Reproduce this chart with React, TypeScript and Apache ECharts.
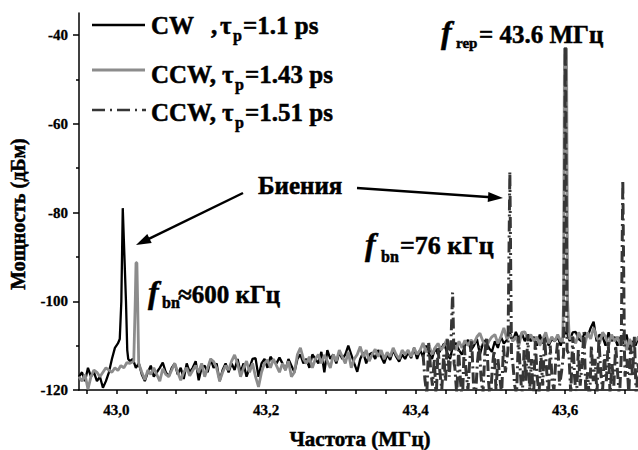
import React, { useEffect, useRef } from 'react';
import * as echarts from 'echarts';

const SERIF = "'Liberation Serif', 'Times New Roman', Times, serif";

// Axis ranges
const FREQ_MIN = 42.95;
const FREQ_MAX = 43.7;
const POWER_MIN = -120;
const POWER_MAX = -35;

// Tick positions and labels
const X_TICK_VALUES = [42.96, 43.0, 43.04, 43.08, 43.12, 43.16, 43.2, 43.24, 43.28, 43.32, 43.36, 43.4, 43.44, 43.48, 43.52, 43.56, 43.6, 43.64, 43.68];
const X_LABEL_VALUES = [43.0, 43.2, 43.4, 43.6];
const Y_LABEL_VALUES = [-120, -100, -80, -60, -40];
const Y_MINOR_VALUES = [-110, -90, -70, -50];

// Sweep grids (MHz)
const CW_START = 42.95;
const CW_STEP = 0.004;
const CCW1_START = 42.95;
const CCW1_STEP = 0.004;
const CCW2_START = 43.41;
const CCW2_STEP = 0.0025;

// CW, tau_p = 1.1 ps: noise floor (dBm), null where the beat line is given separately
const cwLevels: (number | null)[] = [
  -117, -116, -118, -115, -117, -116, -118, -117, -119.5, -118,
  -116, -113, -110.5, -109.5, null, null, null, -113.5, -113, -115,
  -114, -116.5, -118, -116, -114.5, -117, -116, -115, -113.8, -116,
  -117, -115, -114, -116.5, -115, -117.5, -114, -116, -115, -113.5,
  -117.8, -115, -114.5, -116, -113, -115, -114, -118, -115.5, -114,
  -116, -114, -115.5, -113, -116, -114, -117, -115, -113, -112.8,
  -117, -114, -113, -115, -112.5, -113.5, -114, -112.7, -114, -115.5,
  -113, -114.5, -116, -113, -112, -114, -113, -115, -112, -113,
  -114, -111.4, -116, -111, -113, -112, -114, -111.5, -113, -112,
  -110, -112, -114, -115.9, -113, -111.5, -114, -112, -111.6, -113,
  -111, -112.5, -114, -112, -113.2, -111, -112.5, -113.6, -112, -113,
  -111.5, -112.8, -110.5, -113, -111, -112.5, -110, -111.8, -113, -110.5,
  -112, -110.8, -109.5, -111.5, -113, -110, -109.4, -111, -112, -110,
  -108.7, -111, -110, -108.5, -112, -109.5, -108.7, -110.5, -111.4, -109,
  -110.5, -108, -109.5, -108.7, -107, -109, -106.9, -108.5, -107.2, -109,
  -107.5, -109, -108, -110, -107.5, -109.5, -108, -110, -108.5, -109,
  -108, -110, -107.5, -106.9, -109, -107, -106.9, -108.5, -109, -107,
  -108, -106, -104.6, -109, -107.5, -108, -110, -107, -109, -108,
  -110, -108, -109.5, -107.5, -111, -109, -110, -108,
];
const cwPeak: [number, number][] = [
  [43.0045, -108.5], [43.0066, -100], [43.0085, -79], [43.0092, -79], [43.0128, -100], [43.0145, -111], [43.0158, -113],
];

// CCW, tau_p = 1.43 ps
const ccw1Levels: (number | null)[] = [
  -117, -118, -116.5, -119.8, -117, -115.5, -116, -117, -116, -115,
  -115.5, -116, -115, -115.6, -114.5, -115, -113.8, -114, null, null,
  null, -116, -117.7, -115.5, -116.5, -115, -116.5, -118, -115.2, -116.5,
  -117, -115.5, -114, -116, -117.8, -116, -115, -116.8, -115.6, -114.5,
  -116, -114, -117, -115, -113, -113.6, -115, -118, -116, -114.5,
  -115.5, -113.5, -112.1, -114, -117, -115, -113.5, -116, -114, -117,
  -119.3, -116, -114, -113.2, -115, -113, -114.5, -116, -114, -115.5,
  -113.5, -117, -116, -112, -110.5, -113, -114, -112.5, -115, -113,
  -112, -114, -112.1, -113.5, -115, -112, -113.5, -111, -112.5, -114,
  -111.4, -115, -113, -112, -110.2, -112.5, -111, -113.5, -112, -110.8,
  -112.5, -111, -113, -111.5, -112.5, -110.5, -112, -113, -111, -112,
  -111, -112.5, -110.5, -112, -111, -109.4, -111.5, -110, -112, -110.5,
  -109.5, -111, -110, -108.5, -110.5, -109.5, -111, -109, -110.5, -108.8,
  -110, -108.7, -109.5, -108, -107.2, -109, -110.5, -109, -108, -107.5,
  -109.5, -108, -106, -108.5, -107.5, -109, -108, -110, -107, -106.9,
  -108.5, -107.5, -109, -108, -110, -108.5, -107, -109.5, -108, -109,
  -107.5, -109, null, null, -108.5, -108, -109.5, -107, -108.5, -110,
  -107, -108.5, -106, -108, -109.5, -107, -108, -110, -107.5, -109,
  -108, -110, -107.2, -111, -108.5, -110, -109, -108,
];
const ccw1Peaks: [number, number][] = [
  [43.0232, -113.5], [43.0252, -100], [43.0262, -91.3], [43.0274, -91.3], [43.0284, -100], [43.0298, -114],
  [43.5965, -109], [43.5978, -100], [43.599, -43], [43.6018, -43], [43.6032, -100], [43.6055, -108.5],
];

// CCW, tau_p = 1.51 ps
const ccw2Levels: (number | null)[] = [
  -112, -117.7, -121, -109.4, -115, -119, -113, -122, -110.5, -116,
  -120, -112, -118, -108.5, -117, null, null, -115, -121, -111,
  -118, -123, -110, -116, -120, -113, -109, -119, -122, -114,
  -110, -117, -121, -112, -108, -118, -123, -115, -111, -120,
  -113, -117, -121, -110, -116, null, null, null, -114, -119,
  -121, -108, -116, -122, -111, -118, -107.5, -120, -113, -123,
  -109, -117, -121, -112, -119, -108, -115, -122, -110, -118,
  -120, -113, -109, -119, -116, null, null, null, -112, -121,
  -108, -117, -122, -111, -119, -114, -107, -120, -116, -123,
  -110, -118, -113, -121, -108.5, -116, -120, -112, -118, -109,
  -121, -114, -119, -110, -116, -122, null, null, -117, -113,
  -121, -110, -117, -108, -122, -114, -119,
];
const ccw2Peaks: [number, number][] = [
  [43.4465, -113], [43.4495, -98], [43.4515, -114],
  [43.5235, -111], [43.526, -70.8], [43.5282, -112],
  [43.5978, -112], [43.6003, -42.5], [43.6025, -111],
  [43.6748, -113], [43.677, -72.7], [43.6792, -111],
];

function trace(start: number, step: number, levels: (number | null)[], peaks: [number, number][]) {
  const pts: [number, number][] = [];
  levels.forEach((v, i) => {
    if (v !== null) pts.push([Number((start + i * step).toFixed(4)), v]);
  });
  peaks.forEach((p) => pts.push([p[0], p[1]]));
  pts.sort((a, b) => a[0] - b[0]);
  return pts;
}

function label(x: number, baseline: number, text: string, size: number, italic = false, align = 'left') {
  return {
    type: 'text',
    x,
    y: baseline - 0.32 * size,
    z: 50,
    style: {
      text,
      fontSize: size,
      fontFamily: SERIF,
      fontWeight: 'bold',
      fontStyle: italic ? 'italic' : 'normal',
      fill: '#000',
      stroke: '#000',
      lineWidth: 0.5,
      align,
      verticalAlign: 'middle',
    },
  };
}

function arrow(x1: number, y1: number, x2: number, y2: number) {
  const dx = x2 - x1;
  const dy = y2 - y1;
  const len = Math.hypot(dx, dy);
  const ux = dx / len;
  const uy = dy / len;
  const hl = 15;
  const hw = 5;
  const bx = x2 - ux * hl;
  const by = y2 - uy * hl;
  return [
    { type: 'line', z: 50, shape: { x1, y1, x2: bx + ux * 3, y2: by + uy * 3 }, style: { stroke: '#000', lineWidth: 2.5 } },
    {
      type: 'polygon',
      z: 50,
      shape: { points: [[x2, y2], [bx - uy * hw, by + ux * hw], [bx + uy * hw, by - ux * hw]] },
      style: { fill: '#000' },
    },
  ];
}

const CW_COLOR = '#000000';
const CCW1_COLOR = '#8c8c8c';
const CCW2_COLOR = '#363636';
const DASH_DOT = [11, 4, 2, 4];

const axisFont = {
  fontFamily: SERIF,
  fontWeight: 'bold',
  fontSize: 15,
  color: '#000',
  textBorderColor: '#000',
  textBorderWidth: 0.3,
};

export default function App() {
  const ref = useRef<HTMLDivElement>(null);

  useEffect(() => {
    document.body.style.margin = '0';
    if (!ref.current) return;
    const chart = echarts.init(ref.current, null, { renderer: 'svg' });

    const legendLines = [
      { type: 'line', z: 50, shape: { x1: 92, y1: 25, x2: 145, y2: 25 }, style: { stroke: CW_COLOR, lineWidth: 2.5 } },
      { type: 'line', z: 50, shape: { x1: 92, y1: 70, x2: 145, y2: 70 }, style: { stroke: CCW1_COLOR, lineWidth: 3 } },
      { type: 'line', z: 50, shape: { x1: 92, y1: 110, x2: 146, y2: 110 }, style: { stroke: CCW2_COLOR, lineWidth: 2.5, lineDash: [13, 5, 2, 5] } },
    ];

    const texts = [
      label(151, 33, 'CW', 25), label(211, 33, ',', 25), label(220, 33, 'τ', 25), label(233, 41, 'p', 16), label(243, 33, '=1.1 ps', 25),
      label(151, 82, 'CCW,', 25), label(222, 82, 'τ', 25), label(235, 90, 'p', 16), label(245, 82, '=1.43 ps', 25),
      label(151, 120, 'CCW,', 25), label(222, 120, 'τ', 25), label(235, 128, 'p', 16), label(245, 120, '=1.51 ps', 25),
      label(441, 42, 'f', 32, true), label(456, 48, 'rep', 15), label(479, 42, '= 43.6 МГц', 25),
      label(258, 193, 'Биения', 25),
      label(365, 254, 'f', 32, true), label(381, 262, 'bn', 16), label(400, 254, '=76 кГц', 26),
      label(148, 302, 'f', 32, true), label(162, 308, 'bn', 16), label(178, 302, '≈600 кГц', 25),
      label(360, 446, 'Частота (МГц)', 21, false, 'center'),
      {
        type: 'text',
        x: 18,
        y: 214,
        rotation: Math.PI / 2,
        z: 50,
        style: {
          text: 'Мощность (дБм)',
          fontSize: 20,
          fontFamily: SERIF,
          fontWeight: 'bold',
          fill: '#000',
          stroke: '#000',
          lineWidth: 0.5,
          align: 'center',
          verticalAlign: 'middle',
        },
      },
    ];

    const option = {
      animation: false,
      backgroundColor: '#ffffff',
      grid: { left: 79, top: 13, width: 561, height: 377, containLabel: false, outerBoundsMode: 'none' },
      xAxis: {
        type: 'value',
        min: FREQ_MIN,
        max: FREQ_MAX,
        axisLine: { show: true, onZero: false, lineStyle: { color: '#000', width: 1.5 } },
        axisTick: { show: true, customValues: X_TICK_VALUES, length: 4, lineStyle: { color: '#000', width: 1.5 } },
        axisLabel: {
          show: true,
          customValues: X_LABEL_VALUES,
          margin: 12,
          formatter: (v: number) => v.toFixed(1).replace('.', ','),
          ...axisFont,
        },
        splitLine: { show: false },
      },
      yAxis: [
        {
          type: 'value',
          min: POWER_MIN,
          max: POWER_MAX,
          axisLine: { show: true, onZero: false, lineStyle: { color: '#000', width: 1.5 } },
          axisTick: { show: true, customValues: Y_LABEL_VALUES, length: 6, lineStyle: { color: '#000', width: 1.5 } },
          axisLabel: { show: true, customValues: Y_LABEL_VALUES, margin: 11, ...axisFont },
          splitLine: { show: false },
        },
        {
          type: 'value',
          min: POWER_MIN,
          max: POWER_MAX,
          position: 'left',
          axisLine: { show: false, onZero: false },
          axisTick: { show: true, customValues: Y_MINOR_VALUES, length: 3, lineStyle: { color: '#000', width: 1.5 } },
          axisLabel: { show: false },
          splitLine: { show: false },
        },
      ],
      series: [
        {
          name: 'CW, τp=1.1 ps',
          type: 'line',
          data: trace(CW_START, CW_STEP, cwLevels, cwPeak),
          symbol: 'none',
          clip: true,
          lineStyle: { color: CW_COLOR, width: 2.3 },
          z: 2,
        },
        {
          name: 'CCW, τp=1.43 ps',
          type: 'line',
          data: trace(CCW1_START, CCW1_STEP, ccw1Levels, ccw1Peaks),
          symbol: 'none',
          clip: true,
          lineStyle: { color: CCW1_COLOR, width: 2.8 },
          z: 3,
        },
        {
          name: 'CCW, τp=1.51 ps',
          type: 'line',
          data: trace(CCW2_START, CCW2_STEP, ccw2Levels, ccw2Peaks),
          symbol: 'none',
          clip: true,
          lineStyle: { color: CCW2_COLOR, width: 3, type: DASH_DOT },
          z: 4,
        },
      ],
      graphic: [...legendLines, ...texts, ...arrow(243, 193, 136, 245), ...arrow(357, 188, 503, 198)],
    };

    chart.setOption(option as any);
    return () => chart.dispose();
  }, []);

  return <div ref={ref} style={{ width: 638, height: 450 }} />;
}
